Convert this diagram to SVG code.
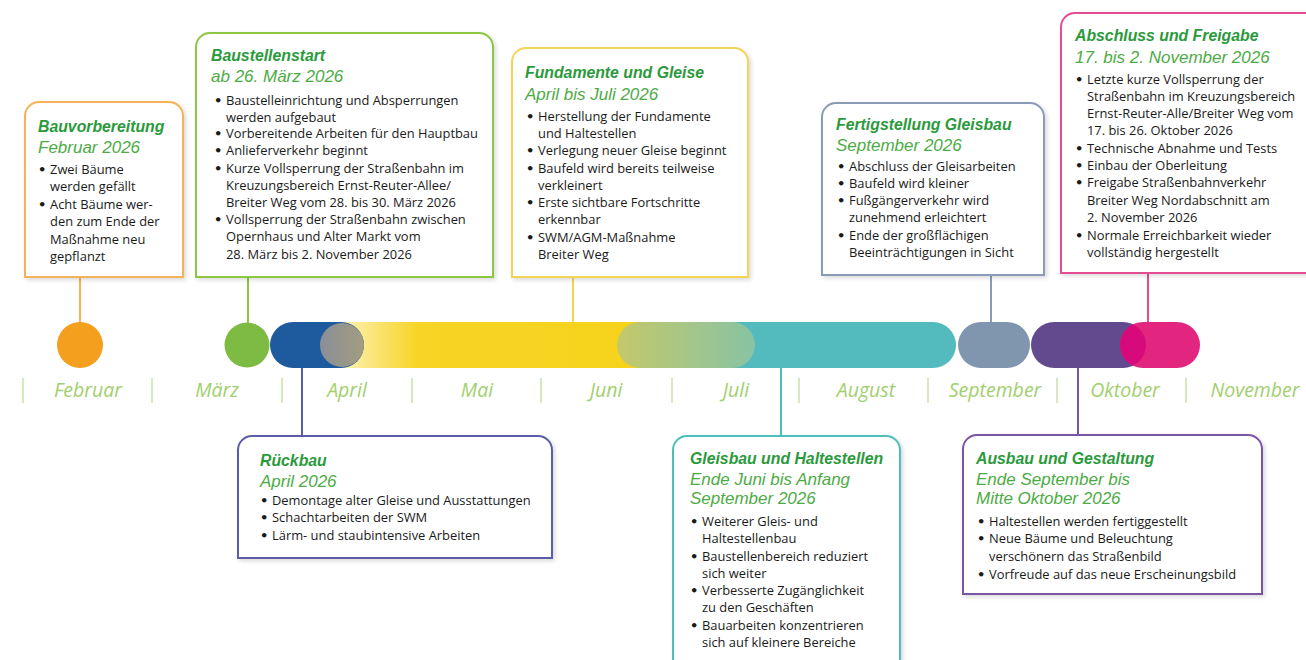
<svg xmlns="http://www.w3.org/2000/svg" width="1306" height="660" viewBox="0 0 1306 660">
<defs>
<style>
.bx{fill:#fff;stroke-width:2}
.tt{font-family:"Liberation Sans",Arial,sans-serif;font-weight:700;font-style:italic;font-size:15.8px;fill:#2b9a3c}
.dt{font-family:"Liberation Sans",Arial,sans-serif;font-style:italic;font-size:17px;fill:#4dab45}
.b{font-family:"Open Sans",sans-serif;font-size:12.9px;font-weight:500;fill:#1a1a1a}
.bu{font-family:"DejaVu Sans",sans-serif;font-size:13px;font-weight:700;fill:#1a1a1a}
.mo{font-family:"Open Sans",sans-serif;font-style:italic;font-size:19.5px;fill:#a2cf6e;text-anchor:middle}
.sep{stroke:#c7e2a6;stroke-width:1.5}
.cn{stroke-width:2;fill:none}
</style>
<filter id="sh" x="-5%" y="-5%" width="115%" height="115%"><feDropShadow dx="2" dy="2" stdDeviation="2" flood-color="#000" flood-opacity="0.15"/></filter>
<linearGradient id="gy" x1="340" y1="0" x2="650" y2="0" gradientUnits="userSpaceOnUse"><stop offset="0" stop-color="#fdf2b8"/><stop offset="0.25" stop-color="#f7d526"/><stop offset="1" stop-color="#f6d21a"/></linearGradient>
<linearGradient id="gg" x1="617" y1="0" x2="760" y2="0" gradientUnits="userSpaceOnUse"><stop offset="0" stop-color="#c4c86a"/><stop offset="1" stop-color="#86c3a6"/></linearGradient>
<linearGradient id="gr" x1="320" y1="0" x2="364" y2="0" gradientUnits="userSpaceOnUse"><stop offset="0" stop-color="#8a8f98"/><stop offset="1" stop-color="#a39c80"/></linearGradient>
<clipPath id="pk"><rect x="1120" y="322" width="80" height="46" rx="23"/></clipPath>
</defs>

<g id="connectors">
<line class="cn" x1="80" y1="277" x2="80" y2="324" stroke="#f6b25a"/>
<line class="cn" x1="248" y1="277" x2="248" y2="324" stroke="#8dc63f"/>
<line class="cn" x1="573" y1="277" x2="573" y2="324" stroke="#f3d554"/>
<line class="cn" x1="991" y1="275" x2="991" y2="324" stroke="#8a9bb5"/>
<line class="cn" x1="1148" y1="273" x2="1148" y2="324" stroke="#e34d92"/>
<line class="cn" x1="302" y1="366" x2="302" y2="437" stroke="#5b5ba8"/>
<line class="cn" x1="781" y1="366" x2="781" y2="437" stroke="#4dbdbd"/>
<line class="cn" x1="1078" y1="366" x2="1078" y2="436" stroke="#7a55a3"/>
</g>

<g id="timeline">
<circle cx="80" cy="345" r="23" fill="#f4a01e"/>
<circle cx="247" cy="345" r="22.5" fill="#7dbb42"/>
<rect x="340" y="322" width="310" height="46" fill="url(#gy)"/>
<rect x="700" y="322" width="256" height="46" rx="23" fill="#53bbbe"/>
<rect x="617" y="322" width="138" height="46" rx="23" fill="url(#gg)"/>
<rect x="270" y="322" width="94" height="46" rx="23" fill="#1d5a9e"/>
<circle cx="342" cy="345" r="22" fill="url(#gr)"/>
<rect x="958" y="322" width="72" height="46" rx="23" fill="#8096ae"/>
<rect x="1031" y="322" width="115" height="46" rx="23" fill="#634a8e"/>
<rect x="1120" y="322" width="80" height="46" rx="23" fill="#e2267f"/>
<rect x="1031" y="322" width="115" height="46" rx="23" fill="#d60a7a" clip-path="url(#pk)"/>
</g>

<g id="months">
<line class="sep" x1="23" y1="378" x2="23" y2="403"/>
<line class="sep" x1="152" y1="378" x2="152" y2="403"/>
<line class="sep" x1="282" y1="378" x2="282" y2="403"/>
<line class="sep" x1="412" y1="378" x2="412" y2="403"/>
<line class="sep" x1="541" y1="378" x2="541" y2="403"/>
<line class="sep" x1="672" y1="378" x2="672" y2="403"/>
<line class="sep" x1="799" y1="378" x2="799" y2="403"/>
<line class="sep" x1="928" y1="378" x2="928" y2="403"/>
<line class="sep" x1="1057" y1="378" x2="1057" y2="403"/>
<line class="sep" x1="1186" y1="378" x2="1186" y2="403"/>
<text class="mo" x="88" y="397">Februar</text>
<text class="mo" x="217" y="397">März</text>
<text class="mo" x="347" y="397">April</text>
<text class="mo" x="477" y="397">Mai</text>
<text class="mo" x="606" y="397">Juni</text>
<text class="mo" x="736" y="397">Juli</text>
<text class="mo" x="866" y="397">August</text>
<text class="mo" x="995" y="397">September</text>
<text class="mo" x="1125" y="397">Oktober</text>
<text class="mo" x="1255" y="397">November</text>
</g>

<g id="bauvorbereitung">
<path class="bx" filter="url(#sh)" stroke="#f6b25a" d="M25,277 V116 A14,14 0 0 1 39,102 H169 A14,14 0 0 1 183,116 V277 Z"/>
<text class="tt" x="38" y="132">Bauvorbereitung</text>
<text class="dt" x="38" y="153">Februar 2026</text>
<text class="bu" x="38" y="174">•</text><text class="b" x="50" y="174">Zwei Bäume</text>
<text class="b" x="50" y="191">werden gefällt</text>
<text class="bu" x="38" y="209">•</text><text class="b" x="50" y="209">Acht Bäume wer-</text>
<text class="b" x="50" y="226">den zum Ende der</text>
<text class="b" x="50" y="244">Maßnahme neu</text>
<text class="b" x="50" y="261">gepflanzt</text>
</g>

<g id="baustellenstart">
<path class="bx" filter="url(#sh)" stroke="#8dc63f" d="M196,277 V47 A14,14 0 0 1 210,33 H479 A14,14 0 0 1 493,47 V277 Z"/>
<text class="tt" x="211" y="61">Baustellenstart</text>
<text class="dt" x="211" y="82">ab 26. März 2026</text>
<text class="bu" x="214" y="105">•</text><text class="b" x="226" y="105">Baustelleinrichtung und Absperrungen</text>
<text class="b" x="226" y="122">werden aufgebaut</text>
<text class="bu" x="214" y="138">•</text><text class="b" x="226" y="138">Vorbereitende Arbeiten für den Hauptbau</text>
<text class="bu" x="214" y="155">•</text><text class="b" x="226" y="155">Anlieferverkehr beginnt</text>
<text class="bu" x="214" y="173">•</text><text class="b" x="226" y="173">Kurze Vollsperrung der Straßenbahn im</text>
<text class="b" x="226" y="190">Kreuzungsbereich Ernst-Reuter-Allee/</text>
<text class="b" x="226" y="207">Breiter Weg vom 28. bis 30. März 2026</text>
<text class="bu" x="214" y="224">•</text><text class="b" x="226" y="224">Vollsperrung der Straßenbahn zwischen</text>
<text class="b" x="226" y="241">Opernhaus und Alter Markt vom</text>
<text class="b" x="226" y="259">28. März bis 2. November 2026</text>
</g>

<g id="fundamente">
<path class="bx" filter="url(#sh)" stroke="#f3d554" d="M512,277 V62 A14,14 0 0 1 526,48 H734 A14,14 0 0 1 748,62 V277 Z"/>
<text class="tt" x="525" y="78">Fundamente und Gleise</text>
<text class="dt" x="525" y="100">April bis Juli 2026</text>
<text class="bu" x="526" y="121">•</text><text class="b" x="538" y="121">Herstellung der Fundamente</text>
<text class="b" x="538" y="138">und Haltestellen</text>
<text class="bu" x="526" y="155">•</text><text class="b" x="538" y="155">Verlegung neuer Gleise beginnt</text>
<text class="bu" x="526" y="173">•</text><text class="b" x="538" y="173">Baufeld wird bereits teilweise</text>
<text class="b" x="538" y="190">verkleinert</text>
<text class="bu" x="526" y="207">•</text><text class="b" x="538" y="207">Erste sichtbare Fortschritte</text>
<text class="b" x="538" y="224">erkennbar</text>
<text class="bu" x="526" y="242">•</text><text class="b" x="538" y="242">SWM/AGM-Maßnahme</text>
<text class="b" x="538" y="259">Breiter Weg</text>
</g>

<g id="fertigstellung">
<path class="bx" filter="url(#sh)" stroke="#8a9bb5" d="M822,275 V117 A14,14 0 0 1 836,103 H1030 A14,14 0 0 1 1044,117 V275 Z"/>
<text class="tt" x="836" y="130">Fertigstellung Gleisbau</text>
<text class="dt" x="836" y="151">September 2026</text>
<text class="bu" x="837" y="171">•</text><text class="b" x="849" y="171">Abschluss der Gleisarbeiten</text>
<text class="bu" x="837" y="188">•</text><text class="b" x="849" y="188">Baufeld wird kleiner</text>
<text class="bu" x="837" y="205">•</text><text class="b" x="849" y="205">Fußgängerverkehr wird</text>
<text class="b" x="849" y="222">zunehmend erleichtert</text>
<text class="bu" x="837" y="240">•</text><text class="b" x="849" y="240">Ende der großflächigen</text>
<text class="b" x="849" y="257">Beeinträchtigungen in Sicht</text>
</g>

<g id="abschluss">
<path class="bx" filter="url(#sh)" stroke="#e34d92" d="M1061,273 V27 A14,14 0 0 1 1075,13 H1306 A14,14 0 0 1 1320,27 V273 Z"/>
<text class="tt" x="1075" y="41">Abschluss und Freigabe</text>
<text class="dt" x="1075" y="63">17. bis 2. November 2026</text>
<text class="bu" x="1075" y="84">•</text><text class="b" x="1087" y="84">Letzte kurze Vollsperrung der</text>
<text class="b" x="1087" y="101">Straßenbahn im Kreuzungsbereich</text>
<text class="b" x="1087" y="118">Ernst-Reuter-Alle/Breiter Weg vom</text>
<text class="b" x="1087" y="135">17. bis 26. Oktober 2026</text>
<text class="bu" x="1075" y="153">•</text><text class="b" x="1087" y="153">Technische Abnahme und Tests</text>
<text class="bu" x="1075" y="170">•</text><text class="b" x="1087" y="170">Einbau der Oberleitung</text>
<text class="bu" x="1075" y="187">•</text><text class="b" x="1087" y="187">Freigabe Straßenbahnverkehr</text>
<text class="b" x="1087" y="205">Breiter Weg Nordabschnitt am</text>
<text class="b" x="1087" y="222">2. November 2026</text>
<text class="bu" x="1075" y="240">•</text><text class="b" x="1087" y="240">Normale Erreichbarkeit wieder</text>
<text class="b" x="1087" y="257">vollständig hergestellt</text>
</g>

<g id="rueckbau">
<path class="bx" filter="url(#sh)" stroke="#5b5ba8" d="M238,558 V450 A14,14 0 0 1 252,436 H538 A14,14 0 0 1 552,450 V558 Z"/>
<text class="tt" x="260" y="466">Rückbau</text>
<text class="dt" x="260" y="487">April 2026</text>
<text class="bu" x="260" y="505">•</text><text class="b" x="272" y="505">Demontage alter Gleise und Ausstattungen</text>
<text class="bu" x="260" y="522">•</text><text class="b" x="272" y="522">Schachtarbeiten der SWM</text>
<text class="bu" x="260" y="540">•</text><text class="b" x="272" y="540">Lärm- und staubintensive Arbeiten</text>
</g>

<g id="gleisbau">
<path class="bx" filter="url(#sh)" stroke="#4dbdbd" d="M673,680 V450 A14,14 0 0 1 687,436 H886 A14,14 0 0 1 900,450 V680 Z"/>
<text class="tt" x="690" y="464">Gleisbau und Haltestellen</text>
<text class="dt" x="690" y="484.5">Ende Juni bis Anfang</text>
<text class="dt" x="690" y="504">September 2026</text>
<text class="bu" x="690" y="526">•</text><text class="b" x="702" y="526">Weiterer Gleis- und</text>
<text class="b" x="702" y="543">Haltestellenbau</text>
<text class="bu" x="690" y="561">•</text><text class="b" x="702" y="561">Baustellenbereich reduziert</text>
<text class="b" x="702" y="578">sich weiter</text>
<text class="bu" x="690" y="595">•</text><text class="b" x="702" y="595">Verbesserte Zugänglichkeit</text>
<text class="b" x="702" y="612">zu den Geschäften</text>
<text class="bu" x="690" y="630">•</text><text class="b" x="702" y="630">Bauarbeiten konzentrieren</text>
<text class="b" x="702" y="647">sich auf kleinere Bereiche</text>
</g>

<g id="ausbau">
<path class="bx" filter="url(#sh)" stroke="#7a55a3" d="M963,594 V449 A14,14 0 0 1 977,435 H1248 A14,14 0 0 1 1262,449 V594 Z"/>
<text class="tt" x="976" y="464">Ausbau und Gestaltung</text>
<text class="dt" x="976" y="484.5">Ende September bis</text>
<text class="dt" x="976" y="504">Mitte Oktober 2026</text>
<text class="bu" x="977" y="526">•</text><text class="b" x="989" y="526">Haltestellen werden fertiggestellt</text>
<text class="bu" x="977" y="543">•</text><text class="b" x="989" y="543">Neue Bäume und Beleuchtung</text>
<text class="b" x="989" y="561">verschönern das Straßenbild</text>
<text class="bu" x="977" y="579">•</text><text class="b" x="989" y="579">Vorfreude auf das neue Erscheinungsbild</text>
</g>
</svg>
